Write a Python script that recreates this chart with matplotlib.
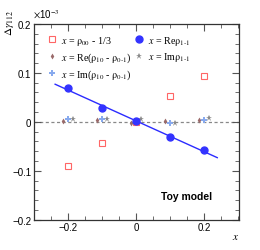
import matplotlib
matplotlib.use("Agg")
import matplotlib.pyplot as plt
import numpy as np
from matplotlib.ticker import MultipleLocator

plt.rcParams['mathtext.fontset'] = 'stix'
plt.rcParams['font.family'] = ['Liberation Sans', 'DejaVu Sans']

# data (units of 1e-3)
x_vals = [-0.2, -0.1, 0.0, 0.1, 0.2]
rho00 = [-0.0906, -0.044, 0.0, 0.0525, 0.0947]
re_rho10 = [0.0015, 0.003, -0.002, 0.0015, 0.004]
im_rho10 = [0.0068, 0.0068, 0.0, -0.003, 0.003]
re_rho1m1 = [0.0695, 0.0286, 0.001, -0.031, -0.058]
im_rho1m1 = [0.0055, 0.0055, 0.0055, -0.003, 0.007]
fit_range = [-0.238, 0.239]

fig = plt.figure(figsize=(2.6, 2.51), dpi=100)
ax = fig.add_axes([0.131, 0.1207, 0.787, 0.7797])

xv = np.array(x_vals)
ax.axhline(0, color='#888888', ls=(0, (2.5, 2)), lw=0.9, zorder=1)

# fit line
k, b = np.polyfit(xv, re_rho1m1, 1)
xf = np.array(fit_range)
ax.plot(xf, k * xf + b, color='#2b2bff', lw=1.0, zorder=2)

h1, = ax.plot(xv, rho00, ls='none', marker='s', ms=4.6, mfc='none', mec='#ff6666', mew=0.8, zorder=3)
h2, = ax.plot(xv - 0.015, re_rho10, ls='none', marker='d', ms=3.0, color='#9a6a6a', mew=0, zorder=3)
h3, = ax.plot(xv, im_rho10, ls='none', marker='P', ms=4.2, color='#88aaee', mew=0, zorder=3)
h4, = ax.plot(xv, re_rho1m1, ls='none', marker='o', ms=5.0, color='#3333ff', zorder=4)
h5, = ax.plot(xv + 0.015, im_rho1m1, ls='none', marker='*', ms=4.6, color='#8a8a8a', mew=0, zorder=3)

labels = [r'$x$ = $\mathrm{\rho}_{00}$ - 1/3',
          r'$x$ = Re($\mathrm{\rho}_{10}$ - $\mathrm{\rho}_{0\text{-}1}$)',
          r'$x$ = Im($\mathrm{\rho}_{10}$ - $\mathrm{\rho}_{0\text{-}1}$)',
          r'$x$ = Re$\mathrm{\rho}_{1\text{-}1}$',
          r'$x$ = Im$\mathrm{\rho}_{1\text{-}1}$']
leg = ax.legend([h1, h2, h3, h4, h5], labels, ncol=2, loc='upper left',
                bbox_to_anchor=(0.02, 0.995), frameon=False,
                handlelength=1.0, handletextpad=0.4, columnspacing=0.2,
                labelspacing=0.35, prop={'family': 'Liberation Serif', 'size': 7.2})

ax.set_xlim(-0.3, 0.302)
ax.set_ylim(-0.2, 0.2)
ax.xaxis.set_major_locator(MultipleLocator(0.2))
ax.xaxis.set_minor_locator(MultipleLocator(0.05))
ax.yaxis.set_major_locator(MultipleLocator(0.1))
ax.yaxis.set_minor_locator(MultipleLocator(0.02))
ax.tick_params(which='both', direction='in', top=True, right=True, labelsize=7, color='#555555', pad=2)
ax.tick_params(which='major', length=5)
ax.tick_params(which='minor', length=3)
ax.set_xticks([-0.2, 0, 0.2])
ax.set_xticklabels(['\u22120.2', '0', '0.2'])
ax.set_yticks([-0.2, -0.1, 0, 0.1, 0.2])
ax.set_yticklabels(['\u22120.2', '\u22120.1', '0', '0.1', '0.2'])
for s in ax.spines.values():
    s.set_color('#333333')
    s.set_linewidth(0.9)

ax.text(0.747, 0.121, 'Toy model', transform=ax.transAxes, fontsize=7.5,
        fontweight='bold', ha='center', va='center')

fig.text(0.905, 0.055, r'$x$', fontsize=8, ha='center', va='center')
fig.text(0.035, 0.96, r'$\Delta\gamma_{112}$', fontsize=8, rotation=90, ha='center', va='top')
fig.text(0.128, 0.915, r'$\times$10$^{-3}$', fontsize=7, ha='left', va='bottom')

fig.savefig('out.png', dpi=100)
